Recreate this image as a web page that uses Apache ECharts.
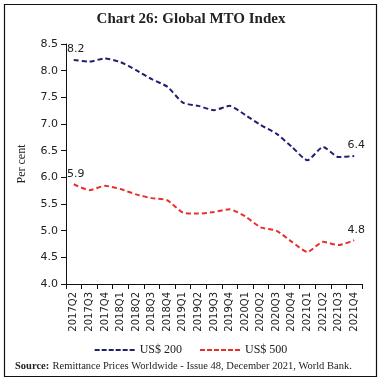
<!DOCTYPE html>
<html><head><meta charset="utf-8">
<script src="https://cdn.jsdelivr.net/npm/echarts@6/dist/echarts.min.js"></script>
<style>html,body{margin:0;padding:0;background:#fff}#c{width:382px;height:382px}</style>
</head><body><div id="c"></div>
<script>
const categories = ['2017Q2','2017Q3','2017Q4','2018Q1','2018Q2','2018Q3','2018Q4','2019Q1','2019Q2','2019Q3','2019Q4','2020Q1','2020Q2','2020Q3','2020Q4','2021Q1','2021Q2','2021Q3','2021Q4'];
const us200 = [8.20,8.17,8.23,8.16,8.01,7.84,7.70,7.40,7.34,7.26,7.34,7.17,6.98,6.82,6.57,6.32,6.57,6.38,6.40];
const us500 = [5.87,5.76,5.84,5.78,5.68,5.61,5.57,5.34,5.32,5.35,5.40,5.27,5.06,5.00,4.79,4.60,4.79,4.73,4.82];
const names = ['US$ 200','US$ 500'];

const chart = echarts.init(document.getElementById('c'));
const serif = '"Liberation Serif","DejaVu Serif",serif';
const sans = '"DejaVu Sans",Verdana,sans-serif';
const n = categories.length;
const dashIcon = 'path://M0,0h5v2h-5zM7,0h5v2h-5zM14,0h5v2h-5zM21,0h5v2h-5zM28,0h5v2h-5zM35,0h5v2h-5z';
function mkLabel(){
  return {show:true,position:'top',distance:5,offset:[2,0],fontFamily:sans,fontSize:11,color:'#222',
    formatter:function(p){return (p.dataIndex===0||p.dataIndex===n-1)?Number(p.data).toFixed(1):'';}};
}
chart.setOption({
  animation:false,
  title:{text:'Chart 26: Global MTO Index',left:'center',top:7,textStyle:{fontFamily:serif,fontWeight:'bold',fontSize:15,color:'#222'}},
  grid:{left:66,right:20,top:44,bottom:98},
  legend:{top:339,left:'center',itemWidth:40,itemHeight:2.5,itemGap:18,
    textStyle:{fontFamily:serif,fontSize:12,color:'#222'},
    data:[{name:names[0],icon:dashIcon,itemStyle:{color:'#1f1f6e'}},{name:names[1],icon:dashIcon,itemStyle:{color:'#e8302a'}}]},
  xAxis:{type:'category',data:categories,boundaryGap:true,
    axisLine:{lineStyle:{color:'#111',width:1}},
    axisTick:{show:true,alignWithLabel:false,length:5,lineStyle:{color:'#111'}},
    axisLabel:{rotate:90,fontFamily:sans,fontSize:10,color:'#222',margin:8}},
  yAxis:{type:'value',min:4.0,max:8.5,interval:0.5,
    name:'Per cent',nameLocation:'middle',nameGap:38,nameTextStyle:{fontFamily:serif,fontSize:12,color:'#222'},
    axisLine:{show:true,lineStyle:{color:'#111',width:1}},
    axisTick:{show:true,length:5,lineStyle:{color:'#111'}},
    splitLine:{show:false},
    axisLabel:{fontFamily:sans,fontSize:11,color:'#222',margin:8,formatter:function(v){return v.toFixed(1);}}},
  series:[
    {name:names[0],type:'line',data:us200,smooth:0.2,symbol:'circle',symbolSize:0,showSymbol:true,color:'#1f1f6e',
      label:mkLabel(),
      lineStyle:{color:'#1f1f6e',width:2,type:[5,3]}},
    {name:names[1],type:'line',data:us500,smooth:0.2,symbol:'circle',symbolSize:0,showSymbol:true,color:'#e8302a',
      label:mkLabel(),
      lineStyle:{color:'#e8302a',width:2,type:[5,3]}}
  ],
  graphic:[
    {type:'rect',shape:{x:4.5,y:4.5,width:372,height:372},style:{fill:'none',stroke:'#111',lineWidth:1.2}},
    {type:'text',left:15,top:360,style:{rich:{b:{fontFamily:serif,fontWeight:'bold',fontSize:10.5,fill:'#222'},n:{fontFamily:serif,fontSize:10.5,fill:'#222'}},text:'{b|Source:} {n|Remittance Prices Worldwide - Issue 48, December 2021, World Bank.}'}}
  ]
});
</script></body></html>
